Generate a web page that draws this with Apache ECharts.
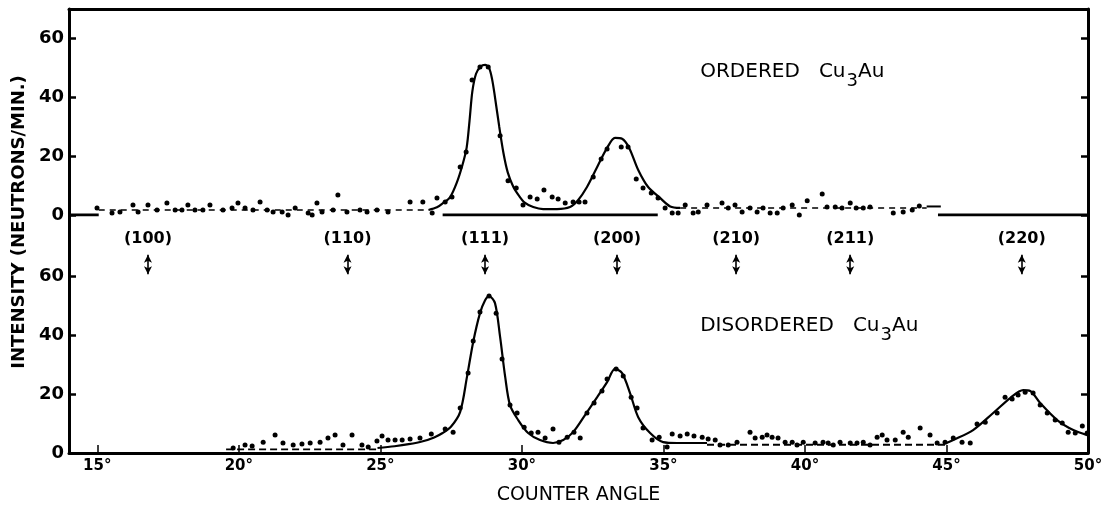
<!DOCTYPE html>
<html>
<head>
<meta charset="utf-8">
<script src="https://cdn.jsdelivr.net/npm/echarts@6/dist/echarts.min.js"></script>
<style>html,body{margin:0;padding:0;background:#fff}#c{width:1113px;height:508px}</style>
</head>
<body>
<div id="c"></div>
<script>
// ---------- DATA ----------
const xTicks = [15, 20, 25, 30, 35, 40, 45, 50];
const xInnerTicks = [15, 20, 25, 30, 35, 40, 45];
const yTicks = [0, 20, 40, 60];

// Ordered Cu3Au (upper panel)
const topDots = [
  [14.99,2.4],[15.52,0.7],[15.80,1.0],[15.98,-1.7],[16.26,3.4],[16.44,1.0],[16.79,3.4],[17.11,1.7],
  [17.46,4.1],[17.75,1.7],[17.99,1.7],[18.20,3.4],[18.45,1.7],[18.73,1.7],[18.98,3.4],[19.27,-1.0],
  [19.44,1.7],[19.76,2.4],[19.97,4.1],[20.22,2.4],[20.50,1.7],[20.75,4.4],[21.00,1.7],[21.21,1.0],
  [21.53,1.0],[21.74,0.0],[21.99,2.4],[22.23,-1.0],[22.45,0.7],[22.59,0.0],[22.76,4.1],[22.94,1.0],
  [23.22,-1.7],[23.33,1.7],[23.50,6.8],[23.82,1.0],[24.28,1.7],[24.53,1.0],[24.88,1.7],[25.27,1.0],
  [25.77,-0.7],[26.05,4.4],[26.30,-1.0],[26.50,4.4],[26.83,0.7],[27.00,5.8],[27.29,4.4],[27.53,6.1],
  [27.82,16.3],[28.03,21.4],[28.24,45.9],[28.52,50.3],[28.81,50.3],[29.23,26.9],[29.51,11.6],[29.80,9.2],
  [30.04,3.4],[30.29,6.1],[30.54,5.4],[30.78,8.5],[31.07,6.1],[31.28,5.4],[31.53,4.1],[31.81,4.4],
  [32.02,4.4],[32.23,4.4],[32.52,12.9],[32.80,19.0],[33.01,22.4],[33.51,23.1],[33.75,23.1],[34.04,12.2],
  [34.28,9.2],[34.57,7.5],[34.81,5.8],[35.06,2.4],[35.31,0.7],[35.52,0.7],[35.77,3.4],[36.05,0.7],
  [36.23,1.0],[36.54,3.4],[36.83,-0.7],[37.07,4.1],[37.29,2.4],[37.53,3.4],[37.78,1.0],[38.06,2.4],
  [38.31,1.0],[38.52,2.4],[38.77,0.7],[39.02,0.7],[39.23,2.4],[39.55,3.4],[39.80,0.0],[40.08,4.8],
  [40.29,-0.7],[40.61,7.1],[40.78,2.7],[41.07,2.7],[41.31,2.4],[41.60,4.1],[41.81,2.4],[42.06,2.4],
  [42.30,2.7],[42.55,-0.7],[42.73,-0.7],[42.90,-0.7],[43.12,0.7],[43.47,1.0],[43.79,1.7],[44.04,3.1]
];
const topCurve = [
  [26.70,1.7],[27.00,2.6],[27.22,4.1],[27.46,6.0],[27.70,11.0],[27.90,17.0],[28.05,23.0],[28.15,32.0],
  [28.25,42.0],[28.38,48.0],[28.55,50.5],[28.70,51.0],[28.84,50.0],[28.95,46.0],[29.05,40.0],[29.20,30.0],
  [29.35,21.0],[29.50,14.5],[29.70,9.5],[29.90,6.5],[30.10,4.2],[30.40,2.7],[30.75,2.0],[31.24,2.0],
  [31.70,2.7],[31.99,5.1],[32.30,9.5],[32.66,16.3],[33.01,22.8],[33.29,26.2],[33.54,25.9],[33.79,22.8],
  [34.11,15.3],[34.46,9.5],[34.88,5.8],[35.24,2.9],[35.59,2.4]
];
const topBaseLeft = [[15.05,1.7],[26.70,1.7]];
const topBaseRight = [[35.59,2.4],[44.30,2.4]];
const topEndStub = [[44.30,2.9],[44.80,2.9]];
const topZeroSegments = [[14.0,15.05],[27.2,34.8],[44.7,50.0]];

// Disordered Cu3Au (lower panel)
const botDots = [
  [19.80,1.7],[20.22,2.7],[20.47,2.4],[20.86,3.7],[21.28,6.1],[21.56,3.4],[21.92,2.7],[22.23,3.1],
  [22.52,3.4],[22.87,3.7],[23.15,5.1],[23.40,6.1],[23.68,2.7],[24.00,6.1],[24.35,2.7],[24.57,2.0],
  [24.88,4.1],[25.06,5.8],[25.27,4.4],[25.52,4.4],[25.77,4.4],[26.05,4.8],[26.40,5.1],[26.80,6.5],
  [27.29,8.2],[27.57,7.1],[27.82,15.3],[28.10,27.2],[28.28,38.1],[28.52,48.0],[28.84,53.4],[29.09,47.6],
  [29.30,32.0],[29.58,16.3],[29.83,13.6],[30.08,8.8],[30.33,6.8],[30.57,7.1],[30.82,5.1],[31.10,8.2],
  [31.31,3.7],[31.60,5.4],[31.84,7.1],[32.06,5.1],[32.30,13.6],[32.55,17.0],[32.83,21.1],[33.01,25.2],
  [33.33,28.6],[33.58,26.2],[33.86,19.0],[34.07,15.3],[34.28,8.5],[34.60,4.4],[34.85,5.4],[35.13,2.0],
  [35.31,6.5],[35.59,5.8],[35.84,6.5],[36.08,5.8],[36.37,5.4],[36.58,4.8],[36.83,4.4],[37.00,2.7],
  [37.29,2.7],[37.60,3.7],[38.06,7.1],[38.24,5.1],[38.49,5.4],[38.66,6.1],[38.84,5.4],[39.05,5.1],
  [39.30,3.7],[39.55,3.7],[39.72,2.7],[39.94,3.7],[40.36,3.4],[40.64,3.7],[40.82,3.4],[41.00,2.7],
  [41.24,3.7],[41.60,3.4],[41.84,3.4],[42.06,3.7],[42.30,2.7],[42.55,5.4],[42.73,6.1],[42.90,4.4],
  [43.19,4.4],[43.47,7.1],[43.65,5.4],[44.07,8.5],[44.42,6.1],[44.67,3.4],[44.95,3.7],[45.24,5.1],
  [45.55,3.7],[45.84,3.4],[46.08,9.9],[46.37,10.5],[46.79,13.6],[47.07,19.0],[47.32,18.4],[47.53,19.7],
  [47.78,20.7],[48.06,20.4],[48.31,16.3],[48.56,13.6],[48.84,11.2],[49.09,10.2],[49.30,7.1],[49.55,6.8],
  [49.80,9.2],[49.97,6.8]
];
const botCurvePeaks = [
  [24.90,1.7],[25.50,2.3],[26.00,3.0],[26.50,4.0],[26.90,5.3],[27.20,6.8],[27.50,9.0],[27.82,14.0],
  [28.06,25.9],[28.28,37.8],[28.52,47.6],[28.70,52.0],[28.84,53.4],[29.05,51.0],[29.23,39.5],[29.41,25.9],
  [29.58,16.3],[29.87,11.2],[30.22,6.8],[30.64,4.4],[31.10,3.4],[31.46,4.4],[31.81,7.1],[32.23,12.9],
  [32.66,19.0],[33.01,24.1],[33.29,28.6],[33.54,27.2],[33.82,20.4],[34.11,12.2],[34.53,6.8],[34.99,3.7],
  [35.48,3.4],[36.54,3.4]
];
const botCurve220 = [
  [45.00,3.4],[45.24,4.4],[45.94,7.8],[46.65,13.6],[47.25,18.7],[47.71,21.4],[47.96,21.1],[48.31,17.0],
  [48.91,11.2],[49.48,7.8],[49.97,6.1]
];
const botBaseLeft = [[19.55,1.2],[24.90,1.2]];
const botBaseRight = [[36.54,2.8],[45.00,2.8]];

// Reflection markers
const hklNames = ['(100)','(110)','(111)','(200)','(210)','(211)','(220)'];
const hklAngles = [16.79, 23.84, 28.70, 33.36, 37.57, 41.60, 47.66];

// Panel titles
const panelWords = ['ORDERED', 'DISORDERED'];
const panelFormula = ['Cu', '3', 'Au'];
const panelX = [36.30, 36.30];
const panelY = [48.3, 42.9];

// ---------- CHART ----------
const FONT = 'DejaVu Sans';
const BLACK = '#000';
const chart = echarts.init(document.getElementById('c'), null, {renderer: 'canvas'});

function yAx(grid, max, showLabel, pos) {
  return {
    type: 'value', gridIndex: grid, min: 0, max: max, position: pos,
    axisLine: {show: true, onZero: false, lineStyle: {color: BLACK, width: 3}},
    axisTick: {show: true, inside: true, length: 7, lineStyle: {color: BLACK, width: 2.5}, customValues: yTicks},
    axisLabel: {show: showLabel, customValues: yTicks, margin: 5, color: BLACK,
      fontFamily: FONT, fontWeight: 'bold', fontSize: 18},
    splitLine: {show: false}
  };
}

const series = [];
topZeroSegments.forEach(s => series.push({
  type: 'line', xAxisIndex: 0, yAxisIndex: 0, data: [[s[0],0],[s[1],0]],
  symbol: 'none', lineStyle: {color: BLACK, width: 3}, silent: true
}));
series.push({type:'line', xAxisIndex:0, yAxisIndex:0, data: topBaseLeft, symbol:'none',
  lineStyle:{color:BLACK, width:1.6, type:[6,5]}, silent:true});
series.push({type:'line', xAxisIndex:0, yAxisIndex:0, data: topBaseRight, symbol:'none',
  lineStyle:{color:BLACK, width:1.6, type:[6,5]}, silent:true});
series.push({type:'line', xAxisIndex:0, yAxisIndex:0, data: topEndStub, symbol:'none',
  lineStyle:{color:BLACK, width:2}, silent:true});
series.push({type:'line', xAxisIndex:0, yAxisIndex:0, data: topCurve, symbol:'none', smooth:0.3,
  lineStyle:{color:BLACK, width:2.2}, silent:true});
series.push({type:'scatter', xAxisIndex:0, yAxisIndex:0, data: topDots, symbol:'circle', symbolSize:5,
  itemStyle:{color:BLACK, opacity:1}, silent:true});

series.push({type:'line', xAxisIndex:1, yAxisIndex:2, data: botBaseLeft, symbol:'none',
  lineStyle:{color:BLACK, width:1.8, type:[7,4]}, silent:true});
series.push({type:'line', xAxisIndex:1, yAxisIndex:2, data: botBaseRight, symbol:'none',
  lineStyle:{color:BLACK, width:1.8, type:[7,4]}, silent:true});
series.push({type:'line', xAxisIndex:1, yAxisIndex:2, data: botCurvePeaks, symbol:'none', smooth:0.3,
  lineStyle:{color:BLACK, width:2.2}, silent:true});
series.push({type:'line', xAxisIndex:1, yAxisIndex:2, data: botCurve220, symbol:'none', smooth:0.3,
  lineStyle:{color:BLACK, width:2.2}, silent:true});
series.push({type:'scatter', xAxisIndex:1, yAxisIndex:2, data: botDots, symbol:'circle', symbolSize:5,
  itemStyle:{color:BLACK, opacity:1}, silent:true});

// hkl labels + double arrows
series.push({
  type:'scatter', xAxisIndex:1, yAxisIndex:2, symbolSize:0, silent:true,
  itemStyle:{opacity:1},
  data: hklAngles.map((a,i) => ({value:[a, 73.0], name: hklNames[i]})),
  label:{show:true, position:'inside', formatter: p => p.name, color:BLACK, opacity:1,
    fontFamily:FONT, fontSize:16, fontWeight:'bold'},
  markLine:{
    silent:true, symbol:['arrow','arrow'], symbolSize:[6,8], precision: 3,
    label:{show:false},
    lineStyle:{color:BLACK, width:1.6, type:'solid', opacity:1},
    emphasis:{disabled:true},
    data: hklAngles.map(a => [{coord:[a, 67.5]}, {coord:[a, 60.8]}])
  }
});

// panel titles
const richText = {
  t:{fontFamily:FONT, fontSize:20, color:BLACK, lineHeight:22, verticalAlign:'top'},
  s:{fontFamily:FONT, fontSize:18, color:BLACK, lineHeight:22, padding:[10,0,0,1], verticalAlign:'top'}
};
[0,1].forEach(i => series.push({
  type:'scatter', xAxisIndex: i, yAxisIndex: i === 0 ? 0 : 2, symbolSize:0, silent:true,
  itemStyle:{opacity:1},
  data:[{value:[panelX[i], panelY[i]], name: panelWords[i]}],
  label:{show:true, position:'right', distance:0, color:BLACK, opacity:1,
    formatter: p => '{t|' + p.name + '   ' + panelFormula[0] + '}{s|' + panelFormula[1] + '}{t|' + panelFormula[2] + '}',
    rich: richText}
}));

chart.setOption({
  animation: false,
  backgroundColor: '#fff',
  grid: [
    {left: 69, right: 25, top: 9, height: 206},
    {left: 69, right: 25, top: 215, height: 238}
  ],
  xAxis: [
    {type:'value', gridIndex:0, min:14, max:50, position:'top',
      axisLine:{show:true, onZero:false, lineStyle:{color:BLACK, width:3}},
      axisTick:{show:false}, axisLabel:{show:false}, splitLine:{show:false}},
    {type:'value', gridIndex:1, min:14, max:50, position:'bottom',
      axisLine:{show:true, onZero:false, lineStyle:{color:BLACK, width:3}},
      axisTick:{show:true, inside:true, length:8, customValues: xInnerTicks, lineStyle:{color:BLACK, width:1.5}},
      axisLabel:{show:true, customValues: xTicks, formatter: v => v + '°', margin: 6,
        color:BLACK, fontFamily:FONT, fontWeight:'bold', fontSize:15},
      splitLine:{show:false},
      name:'COUNTER ANGLE', nameLocation:'middle', nameGap: 33,
      nameTextStyle:{color:BLACK, fontFamily:FONT, fontSize:19, verticalAlign:'top'}}
  ],
  yAxis: [
    yAx(0, 70, true, 'left'),
    yAx(0, 70, false, 'right'),
    yAx(1, 81, true, 'left'),
    yAx(1, 81, false, 'right')
  ],
  graphic: [{
    type:'text', x: 19, y: 222, rotation: Math.PI/2,
    style:{text:'INTENSITY (NEUTRONS/MIN.)', fill:BLACK, font:'bold 18px "DejaVu Sans"',
      align:'center', verticalAlign:'middle'}
  }],
  series: series
});
</script>
</body>
</html>
